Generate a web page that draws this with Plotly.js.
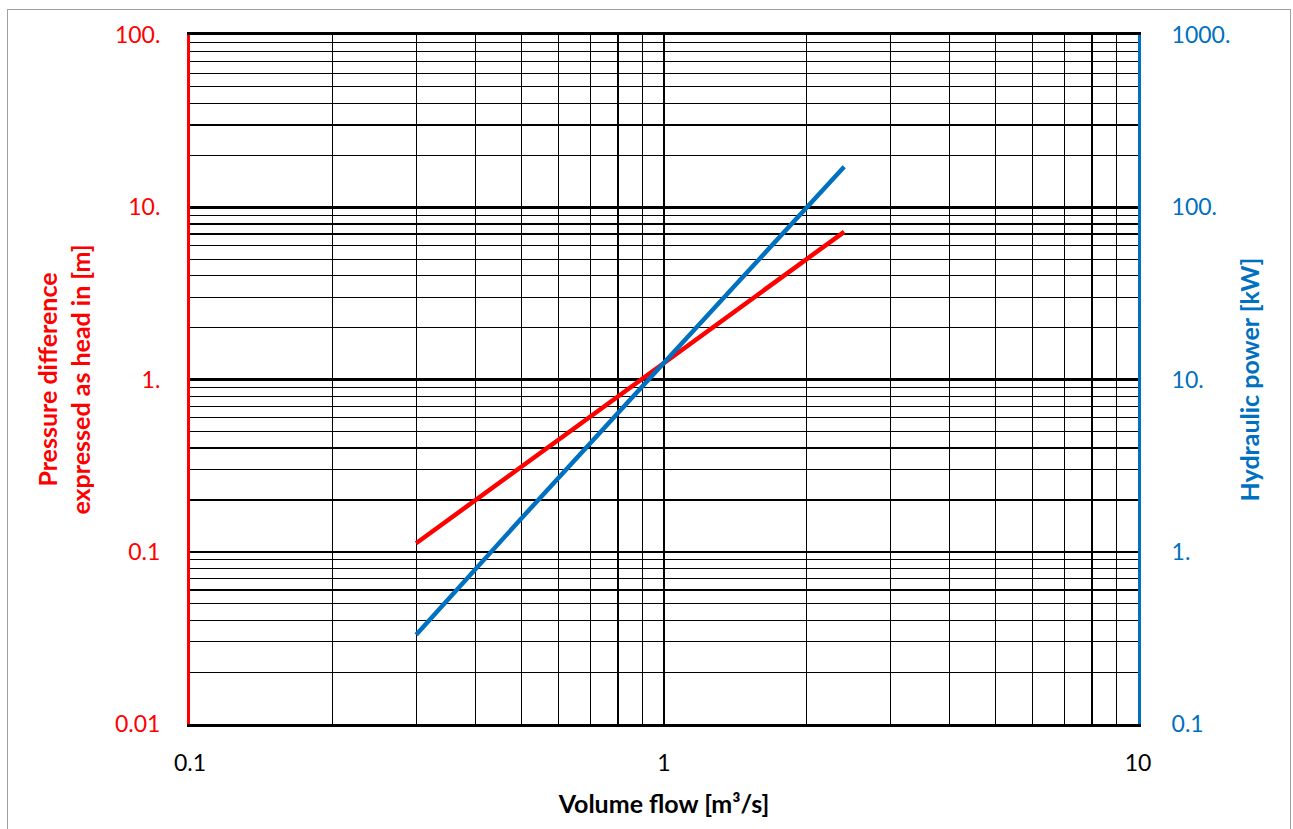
<!DOCTYPE html>
<html>
<head>
<meta charset="utf-8">
<script src="https://cdn.plot.ly/plotly-3.0.1.min.js"></script>
<style>
  html, body { margin: 0; padding: 0; background: #fff; overflow: hidden; }
  #chart { width: 1293px; height: 829px; }
  #frame { position: absolute; left: 7px; top: 9px; width: 1282px; height: 840px;
           border: 1.5px solid #a0a0a0; pointer-events: none; }
</style>
</head>
<body>
<div id="chart"></div>
<div id="frame"></div>
<script>
// Values
const flow  = [0.3, 0.5, 1.0, 1.5, 2.0, 2.4];          // Volume flow [m³/s]
const head  = [0.112, 0.31, 1.25, 2.8, 5.0, 7.2];      // Pressure difference as head [m]
const power = [0.33, 1.56, 12.5, 42, 100, 172];        // Hydraulic power [kW]

const xTickVals = [0.1, 1, 10];
const xTickText = ['0.1', '1', '10'];
const yTickVals = [0.01, 0.1, 1, 10, 100];
const yTickText = ['0.01', '0.1', '1.', '10.', '100.'];
const y2TickVals = [0.1, 1, 10, 100, 1000];
const y2TickText = ['0.1', '1.', '10.', '100.', '1000.'];

const minorX = [0.2,0.3,0.4,0.5,0.6,0.7,0.8,0.9,2,3,4,5,6,7,8,9];
const minorY = [0.02,0.03,0.04,0.05,0.06,0.07,0.08,0.09,
                0.2,0.3,0.4,0.5,0.6,0.7,0.8,0.9,
                2,3,4,5,6,7,8,9,20,30,40,50,60,70,80,90];

const RED = '#ff0000';
const BLUE = '#0070c0';
const FONT = 'Lato, "Open Sans", sans-serif';

const traces = [
  { x: flow, y: head, type: 'scatter', mode: 'lines', name: 'Head',
    line: { color: RED, width: 4.5 }, xaxis: 'x', yaxis: 'y' },
  { x: flow, y: power, type: 'scatter', mode: 'lines', name: 'Power',
    line: { color: BLUE, width: 4.5 }, xaxis: 'x', yaxis: 'y2' }
];

const layout = {
  width: 1293, height: 829,
  margin: { l: 190, r: 155, t: 35, b: 105 },
  paper_bgcolor: '#fff', plot_bgcolor: '#fff',
  showlegend: false,
  font: { family: FONT, size: 24, color: '#000' },
  xaxis: {
    type: 'log', range: [-1, 1],
    tickmode: 'array', tickvals: xTickVals, ticktext: xTickText,
    tickfont: { family: FONT, size: 23, color: '#000' },
    ticks: '', ticklabelstandoff: 16,
    showgrid: true, gridcolor: '#000', gridwidth: 2.5,
    showline: true, linecolor: '#000', linewidth: 3, mirror: true,
    minor: { tickmode: 'array', tickvals: minorX, showgrid: true, gridcolor: '#000', gridwidth: 1.2, ticks: '' },
    title: { text: '<b>Volume flow [m³/s]</b>', font: { family: FONT, size: 25, color: '#000' }, standoff: 21 },
    automargin: false, fixedrange: true
  },
  yaxis: {
    type: 'log', range: [-2, 2],
    tickmode: 'array', tickvals: yTickVals, ticktext: yTickText,
    tickfont: { family: FONT, size: 23, color: RED },
    ticks: '', ticklabelstandoff: 22,
    showgrid: true, gridcolor: '#000', gridwidth: 2.5,
    showline: true, linecolor: RED, linewidth: 3,
    minor: { tickmode: 'array', tickvals: minorY, showgrid: true, gridcolor: '#000', gridwidth: 1.2, ticks: '' },
    title: { text: '<b>Pressure difference<br>expressed as head in [m]</b>', font: { family: FONT, size: 25, color: RED }, standoff: 18 },
    automargin: false, fixedrange: true
  },
  yaxis2: {
    type: 'log', range: [-1, 3], overlaying: 'y', side: 'right',
    tickmode: 'array', tickvals: y2TickVals, ticktext: y2TickText,
    tickfont: { family: FONT, size: 23, color: BLUE },
    ticks: '', ticklabelstandoff: 26,
    showgrid: false,
    showline: true, linecolor: BLUE, linewidth: 3,
    title: { text: '<b>Hydraulic power [kW]</b>', font: { family: FONT, size: 25, color: BLUE }, standoff: 13 },
    automargin: false, fixedrange: true
  }
};

Plotly.newPlot('chart', traces, layout, { displayModeBar: false, staticPlot: true });
</script>
</body>
</html>
